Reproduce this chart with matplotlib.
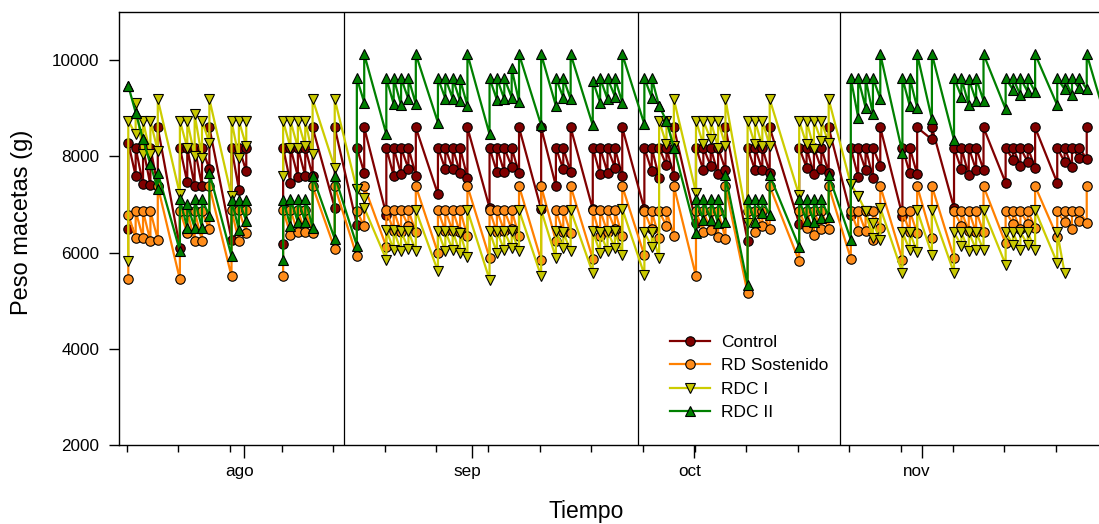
import numpy as np
import matplotlib
matplotlib.use("Agg")
import matplotlib.pyplot as plt
from matplotlib.lines import Line2D
from matplotlib.transforms import ScaledTranslation

nan = np.nan

# measurement days (day 0 = first Monday); nan marks a break in the record
days = [0, 1, 2, 3, 4, 7, 8, 9, 10, 11, 14, 15, 16, nan, 21, 22, 23, 24, 25, 28, 31, 32,
        35, 36, 37, 38, 39, 42, 43, 44, 45, 46, 49, 50, 51, 52, 53, 56, 58, 59, 60,
        63, 64, 65, 66, 67, 70, 71, 72, 73, 74, 77, 78, 79, 80, 81, 84, 85, 86, 87,
        91, 92, 93, 94, 95, 98, 99, 100, 101, 102, 105, 106, 107, 109,
        112, 113, 114, 115, 116, 119, 120, 121, 122, 123, 126, 127, 128, 129, 130, 133]

# weights before / after irrigation (g)
control_before = [6480, 7590, 7420, 7400, 7380, 6100, 7460, 7380, 7380, 7730, 6270, 7310, 7690, nan,
                  6170, 7450, 7580, 7590, 7590, 6930, 6580, 7660,
                  6790, 7590, 7625, 7740, 7600, 7210, 7730, 7730, 7660, 7555, 6930, 7670, 7670, 7785, 7645,
                  6900, 7380, 7730, 7670, 6900, 7625, 7660, 7765, 7590,
                  6900, 7695, 7555, 7810, 7590, 6620, 7715, 7800, 7625, 7715, 6240, 7715, 7715, 7660,
                  6600, 7765, 7625, 7745, 7660, 6790, 7575, 7715, 7555, 7800, 6770, 7645, 7625, 8350,
                  6930, 7730, 7605, 7715, 7715, 7450, 7930, 7800, 7880, 7765, 7450, 7880, 7780, 7970, 7940, nan]
control_after = [8280, 8180, 8180, 8180, 8600, 8180, 8180, 8180, 8180, 8600, 8180, 8180, 8180, nan,
                 8180, 8180, 8180, 8180, 8600, 8600, 8180, 8600,
                 8180, 8180, 8180, 8180, 8600, 8180, 8180, 8180, 8180, 8600, 8180, 8180, 8180, 8180, 8600,
                 8600, 8180, 8180, 8600, 8180, 8180, 8180, 8180, 8600,
                 8180, 8180, 8180, 8180, 8600, 8180, 8180, 8180, 8180, 8600, 8180, 8180, 8180, 8600,
                 8180, 8180, 8180, 8180, 8600, 8180, 8180, 8180, 8180, 8600, 8180, 8180, 8600, 8600,
                 8180, 8180, 8180, 8180, 8600, 8180, 8180, 8180, 8180, 8600, 8180, 8180, 8180, 8180, 8600, nan]

rds_before = [5440, 6305, 6305, 6240, 6270, 5440, 6410, 6240, 6240, 6480, 5510, 6240, 6410, nan,
              5520, 6375, 6420, 6420, 6410, 6080, 5920, 6550,
              6120, 6445, 6420, 6550, 6420, 5990, 6445, 6445, 6420, 6340, 5890, 6420, 6445, 6480, 6340,
              5840, 6240, 6420, 6410, 5870, 6340, 6420, 6490, 6340,
              5940, 6480, 6305, 6550, 6340, 5510, 6420, 6465, 6325, 6285, 5160, 6420, 6550, 6490,
              5820, 6515, 6375, 6480, 6480, 5870, 6445, 6445, 6270, 6515, 5850, 6420, 6410, 6305,
              5890, 6560, 6445, 6420, 6420, 6190, 6600, 6490, 6600, 6515, 6325, 6630, 6480, 6650, 6620, nan]
rds_after = [6790, 6860, 6860, 6860, 7380, 6860, 6860, 6860, 6860, 7380, 6880, 6880, 6880, nan,
             6880, 6880, 6880, 6880, 7380, 7380, 6860, 7380,
             6880, 6880, 6880, 6880, 7380, 6880, 6880, 6880, 6880, 7380, 6880, 6880, 6880, 6880, 7380,
             7380, 6880, 6880, 7380, 6880, 6880, 6880, 6880, 7380,
             6860, 6860, 6860, 6860, 7380, 6860, 6860, 6860, 6860, 7380, 6860, 6860, 6860, 7380,
             6860, 6860, 6860, 6860, 7380, 6860, 6860, 6860, 6860, 7380, 6860, 6860, 7380, 7380,
             6860, 6860, 6860, 6860, 7380, 6860, 6860, 6860, 6860, 7380, 6860, 6860, 6860, 6860, 7380, nan]

rdc1_before = [5820, 8458, 8041, 8041, 8110, 7208, 8180, 8006, 7972, 8284, 7173, 7972, 8215, nan,
               7590, 8180, 8180, 8215, 8041, 7764, 7312, 7139,
               5854, 6049, 6028, 6076, 6028, 5611, 6028, 6049, 5993, 5910, 5437, 5993, 6049, 6097, 6028,
               5507, 5889, 6097, 6028, 5576, 5993, 6028, 6097, 5958,
               5541, 6118, 5889, 8250, 8215, 7243, 8250, 8354, 8180, 8215, 6618, 8250, 8215, 8215,
               7187, 8250, 8160, 8320, 8270, 7417, 7173, 6861, 6305, 6271, 5576, 6049, 6007, 5958,
               5576, 6146, 6028, 6062, 6049, 5750, 6167, 6049, 6167, 6049, 5785, 5576, nan, nan, nan, nan]
rdc1_after = [8736, 9118, 8736, 8736, 9187, 8736, 8736, 8875, 8736, 9187, 8736, 8736, 8736, nan,
              8736, 8736, 8736, 8736, 9187, 9187, 7312, 6930,
              6479, 6465, 6444, 6444, 6882, 6444, 6444, 6444, 6410, 6882, 6444, 6444, 6444, 6444, 6882,
              6882, 6444, 6423, 6882, 6444, 6423, 6444, 6444, 6910,
              6423, 6423, 8736, 8736, 9187, 8736, 8736, 8736, 8736, 9187, 8736, 8736, 8736, 9187,
              8736, 8736, 8736, 8736, 9187, 7417, 7173, 6861, 6618, 6930, 6423, 6423, 6882, 6882,
              6423, 6423, 6423, 6423, 6882, 6423, 6423, 6423, 6423, 6882, 6423, nan, nan, nan, nan, nan]

rdc2_before = [9465, 8910, 8354, 7833, 7312, 6035, 6514, 6514, 6514, 6757, 5923, 6479, 6653, nan,
               5854, 6549, 6632, 6632, 6514, 6285, 6146, 9118,
               8458, 9083, 9062, 9187, 9083, 8701, 9201, 9201, 9152, 9048, 8458, 9173, 9187, 9222, 9132,
               8646, 9048, 9222, 9187, 8646, 9118, 9187, 9243, 9118,
               8666, 9222, 9048, 8736, 8180, 6410, 6687, 6687, 6604, 6632, 5333, 6632, 6812, 6771,
               6118, 6653, 6632, 6722, 6743, 6271, 8805, 9014, 8875, 9201, 8076, 9048, 9014, 8771,
               8340, 9243, 9062, 9152, 9152, 8979, 9382, 9271, 9340, 9340, 9062, 9396, 9271, 9410, 9396, 8560]
rdc2_after = [9465, 8910, 8354, 7833, 7660, 7104, 7000, 7104, 7104, 7660, 7090, 7090, 7090, nan,
              7090, 7120, 7120, 7120, 7590, 7590, 9625, 10125,
              9625, 9625, 9625, 9625, 10125, 9625, 9625, 9625, 9604, 10125, 9625, 9625, 9625, 9826, 10125,
              10125, 9625, 9625, 10125, 9570, 9625, 9625, 9625, 10125,
              9625, 9625, 9048, 8736, 8180, 7104, 7104, 7104, 7104, 7604, 7104, 7104, 7104, 7604,
              7104, 7104, 7104, 7104, 7604, 9625, 9625, 9625, 9625, 10125, 9625, 9625, 10125, 10125,
              9625, 9625, 9604, 9625, 10125, 9625, 9625, 9625, 9625, 10125, 9625, 9625, 9625, 9625, 10125, nan]

series_names = ["Control", "RD Sostenido", "RDC I", "RDC II"]
stage_days = [29.2, 69.2, 96.5]
month_days = [15.7, 46.6, 76.7, 107.6]
month_labels = ["ago", "sep", "oct", "nov"]

plt.rcParams['font.family'] = ['Liberation Sans', 'DejaVu Sans']

fig = plt.figure(figsize=(10.99, 5.24), dpi=100)
ax = fig.add_axes([119 / 1099, 79 / 524, 981 / 1099, 433 / 524])


def interleave(before, after):
    xs, ys = [], []
    for d, b, a in zip(days, before, after):
        xs += [d, d]
        ys += [b, a]
    return np.array(xs, float), np.array(ys, float)


styles = [
    (control_before, control_after, "#800000", "#800000", "o"),
    (rds_before, rds_after, "#ff8000", "#ff8c1a", "o"),
    (rdc1_before, rdc1_after, "#cccc00", "#c8c800", "v"),
    (rdc2_before, rdc2_after, "#008000", "#008000", "^"),
]

handles = []
for (b, a, lc, fc, m), name in zip(styles, series_names):
    xs, ys = interleave(b, a)
    ax.plot(xs, ys, color=lc, lw=1.6, marker=m, ms=6.8, mfc=fc, mec="black", mew=0.8,
            zorder=3, clip_on=True)
    handles.append(Line2D([0], [0], color=lc, lw=1.6, marker=m, ms=6.8, mfc=fc,
                          mec="black", mew=0.8))

for d in stage_days:
    ax.axvline(d, color="black", lw=0.9, zorder=2)

ax.set_xlim(-1.26, 131.8)
ax.set_ylim(2000, 11000)
ax.set_yticks([2000, 4000, 6000, 8000, 10000])
ax.set_xticks(month_days)
ax.set_xticklabels(month_labels)
ax.set_xticks(np.arange(-0.2, 131, 7), minor=True)

ax.tick_params(axis="y", direction="out", length=7, width=1, labelsize=12.3, pad=7)
ax.tick_params(axis="x", which="major", direction="out", length=9, width=1, labelsize=12.3, pad=5)
ax.tick_params(axis="x", which="minor", direction="out", length=5, width=1)

shift = ScaledTranslation(-0.045, 0, fig.dpi_scale_trans)
for lab in ax.get_xticklabels():
    lab.set_transform(lab.get_transform() + shift)

for s in ["top", "left", "bottom"]:
    ax.spines[s].set_linewidth(1.0)
ax.spines["right"].set_visible(False)

ax.set_xlabel("Tiempo", fontsize=16.5, labelpad=15)
ax.set_ylabel("Peso macetas (g)", fontsize=17, labelpad=14)
ax.xaxis.label.set_x(0.4765)
ax.yaxis.label.set_y(0.514)

leg = ax.legend(handles, series_names, loc="upper left", bbox_to_anchor=(0.562, 0.254),
                frameon=False, fontsize=12.5, handlelength=2.3, handletextpad=0.6,
                labelspacing=0.47, borderpad=0, borderaxespad=0, numpoints=1)

fig.savefig("out.png", dpi=100)
